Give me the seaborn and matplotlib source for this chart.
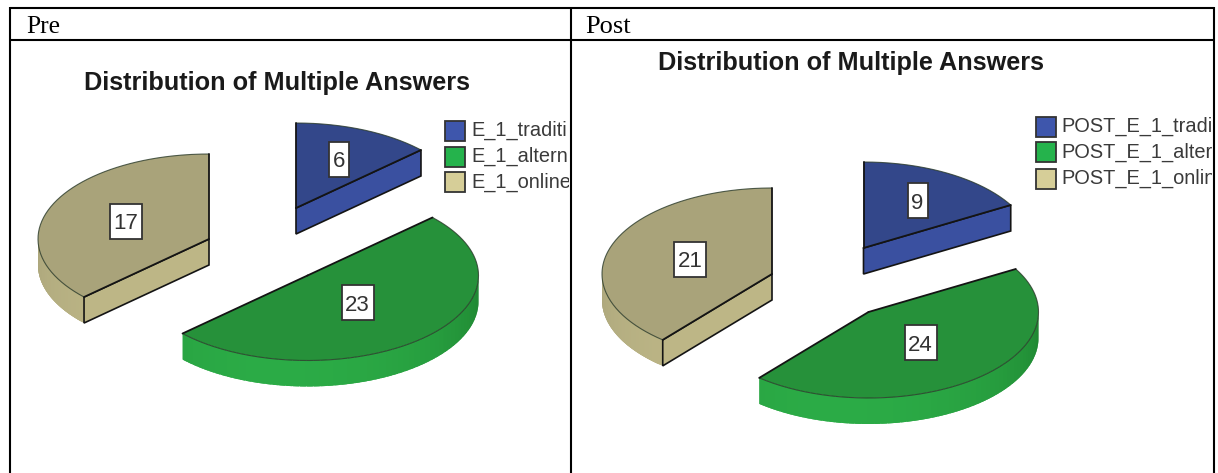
import numpy as np
import matplotlib
matplotlib.use("Agg")
import matplotlib.pyplot as plt
from matplotlib.patches import Polygon, Rectangle
import seaborn as sns

# Survey counts per delivery mode; legend names run into the cell border
legend_pre = ["E_1_traditi", "E_1_altern", "E_1_online"]
legend_post = ["POST_E_1_tradit", "POST_E_1_alter", "POST_E_1_onlin"]
values_pre = [6, 23, 17]
values_post = [9, 24, 21]
chart_title = "Distribution of Multiple Answers"
column_heads = ["Pre", "Post"]

W, H = 1218, 473
sns.set_theme(style="white")
plt.rcParams["font.family"] = ["Liberation Sans", "DejaVu Sans"]

top_face = sns.color_palette(["#33478a", "#26913a", "#a9a37a"])
rim_light = sns.color_palette(["#3a50a0", "#2bab46", "#bdb686"])
rim_dark = sns.color_palette(["#33478a", "#1f8531", "#a5a078"])
swatch = sns.color_palette(["#3e56ac", "#25b34c", "#d6ce98"])
INK = "#141414"

fig = plt.figure(figsize=(W / 100, H / 100), dpi=100, facecolor="white")
ax = fig.add_axes([0, 0, 1, 1])
ax.set_xlim(0, W)
ax.set_ylim(H, 0)
ax.axis("off")


def rim_point(center, a, b, t, depth=0.0):
    """Point on the pie ellipse at t degrees clockwise from twelve o'clock."""
    r = np.radians(t)
    return np.array([center[0] + a * np.sin(r), center[1] - b * np.cos(r) + depth])


def draw_slice(center, t0, t1, a, b, depth, k):
    ts = np.linspace(t0, t1, 160)
    arc = np.array([rim_point(center, a, b, t) for t in ts])
    apex = np.array(center, dtype=float)
    mid = rim_point(center, a, b, (t0 + t1) / 2)

    # Flat cut faces that look towards the viewer
    for t in (t0, t1):
        end = rim_point(center, a, b, t)
        dx = end[0] - apex[0]
        if abs(dx) < 1e-6:
            continue
        line_y = apex[1] + (end[1] - apex[1]) * (mid[0] - apex[0]) / dx
        if mid[1] < line_y:
            quad = [apex, end, end + [0, depth], apex + [0, depth]]
            ax.add_patch(Polygon(quad, closed=True, fc=rim_light[k], ec=INK, lw=1.2, zorder=2))

    # Curved outer wall, shaded along the arc; each strip overlaps the next one
    lo, hi = max(t0, 90), min(t1, 270)
    if hi > lo:
        steps = np.linspace(lo, hi, 60)
        for s0, s1 in zip(steps[:-1], steps[1:]):
            f = np.cos(np.clip((0.5 * (s0 + s1) - 190) / 100, -1, 1) * np.pi / 2)
            col = np.array(rim_dark[k]) * (1 - f) + np.array(rim_light[k]) * f
            seg = np.array([rim_point(center, a, b, t)
                            for t in np.linspace(s0, min(s1 + 2, hi), 5)])
            poly = np.vstack([seg, seg[::-1] + [0, depth]])
            ax.add_patch(Polygon(poly, closed=True, fc=col, ec="none", zorder=1))

    # Top face
    ax.add_patch(Polygon(np.vstack([apex, arc]), closed=True, fc=top_face[k], ec="none", zorder=3))
    ax.plot(arc[:, 0], arc[:, 1], color="#2a3a2a", lw=0.8, zorder=4, alpha=0.8)
    for t in (t0, t1):
        end = rim_point(center, a, b, t)
        ax.plot([apex[0], end[0]], [apex[1], end[1]], color=INK, lw=1.3, zorder=4)


def value_tag(xy, value):
    text = str(value)
    w, h = 8 + 12 * len(text), 35
    ax.add_patch(Rectangle((xy[0] - w / 2, xy[1] - h / 2), w, h, fc="white", ec="#333333", lw=1.3, zorder=5))
    ax.text(xy[0], xy[1], text, ha="center", va="center_baseline", fontsize=16, color="#333333", zorder=6)


def draw_pie(values, centers, tags, a, b, depth):
    edges = np.concatenate([[0], np.cumsum(values)]) / np.sum(values) * 360
    for k in (2, 0, 1):
        draw_slice(centers[k], edges[k], edges[k + 1], a, b, depth, k)
    for xy, v in zip(tags, values):
        value_tag(xy, v)


def draw_legend(labels, x_box, ys, x_text, x_clip):
    clip = Rectangle((x_text - 2, 0), x_clip - x_text + 2, H, transform=ax.transData)
    for k, (label, y) in enumerate(zip(labels, ys)):
        ax.add_patch(Rectangle((x_box, y), 20, 20, fc=swatch[k], ec="#333333", lw=1.3))
        t = ax.text(x_text, y + 10, label, ha="left", va="center", fontsize=14.4, color="#3a3a3a")
        t.set_clip_on(True)
        t.set_clip_path(clip)


# Table frame around both charts
for xs, ys in [((9.5, 1214), (8, 8)), ((9.5, 1214), (40, 40)),
               ((9.5, 9.5), (7, H)), ((571, 571), (7, H)), ((1214, 1214), (7, H))]:
    ax.plot(xs, ys, color="black", lw=1.5, solid_capstyle="butt")

ax.text(26, 33, column_heads[0], fontsize=18.4, family="Liberation Serif", color="black", va="baseline")
ax.text(585, 33, column_heads[1], fontsize=19, family="Liberation Serif", color="black", va="baseline")

# Left chart
ax.text(276.5, 83, chart_title, ha="center", va="center", fontsize=18.2, fontweight="bold", color="#1a1a1a")
draw_pie(values_pre, [(296, 208), (307.5, 275.5), (209, 239)],
         [(339, 159), (357.5, 302.5), (126, 221)], a=171, b=85, depth=26)
draw_legend(legend_pre, 445, [120.5, 146.5, 172], 471, 569)

# Right chart
ax.text(851, 63, chart_title, ha="center", va="center", fontsize=18.2, fontweight="bold", color="#1a1a1a")
draw_pie(values_post, [(863.5, 248), (868.5, 312), (772, 274)],
         [(917.5, 200.5), (920.5, 342.5), (690, 259)], a=170, b=86, depth=26)
draw_legend(legend_post, 1036, [116.5, 142, 168.5], 1061, 1212)

fig.savefig("out.png", dpi=100, facecolor="white")
